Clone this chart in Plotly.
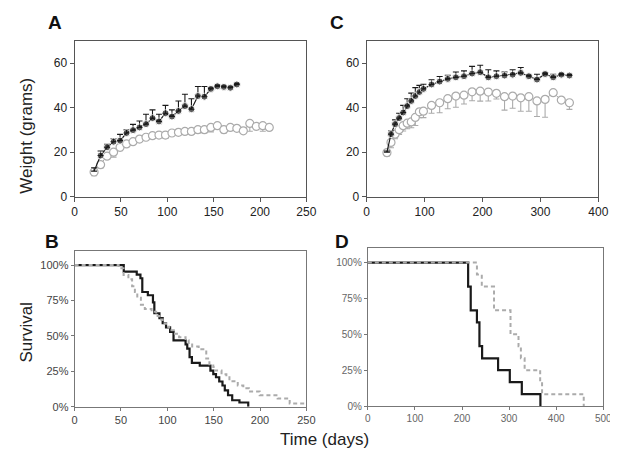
import plotly.graph_objects as go

# ---------------- Panel A: weight vs age ----------------
a_black_days = [21, 28, 35, 42, 49, 56, 63, 70, 77, 84, 91, 98, 105, 112, 119, 126, 133, 140, 147, 154, 161, 168, 175]
a_black_wt = [11.5, 18.5, 22.2, 24.7, 25.2, 28.6, 29.9, 31.1, 32.6, 35.3, 33.8, 37.5, 36.0, 38.5, 40.7, 39.3, 45.2, 44.9, 48.4, 49.6, 49.3, 48.9, 50.4]
a_black_err = [1.5, 2.0, 1.3, 1.3, 2.8, 1.4, 2.6, 2.9, 4.4, 3.7, 3.2, 3.5, 3.0, 4.5, 5.3, 4.7, 4.3, 4.6, 0.5, 0.5, 0.5, 0.5, 0.5]

a_gray_days = [21, 28, 35, 42, 49, 56, 63, 70, 77, 84, 91, 98, 105, 112, 119, 126, 133, 140, 147, 154, 161, 168, 175, 182, 189, 196, 203, 210]
a_gray_wt = [11.1, 14.4, 18.2, 20.0, 22.2, 23.7, 24.7, 25.9, 26.7, 27.4, 27.7, 27.7, 28.6, 28.9, 29.3, 29.3, 30.1, 30.1, 31.1, 31.9, 30.1, 31.1, 30.7, 29.6, 32.9, 31.6, 31.9, 31.1]
a_gray_err = [1.6, 1.5, 1.5, 2.2, 1.5, 1.2, 1.2, 1.0, 1.0, 1.0, 1.0, 1.5, 1.0, 1.0, 1.0, 1.0, 1.5, 1.5, 2.0, 1.0, 1.5, 1.0, 1.0, 0.5, 3.5, 1.5, 2.5, 0.5]

# ---------------- Panel C: weight vs age ----------------
c_black_days = [35, 42, 49, 56, 63, 70, 77, 84, 91, 98, 112, 126, 140, 154, 168, 182, 196, 210, 224, 238, 252, 266, 280, 294, 308, 322, 336, 350]
c_black_wt = [20.0, 28.1, 32.6, 35.3, 37.8, 40.7, 43.0, 45.2, 47.0, 48.4, 50.4, 51.7, 52.9, 53.6, 54.1, 55.3, 55.9, 53.6, 54.1, 54.4, 54.8, 55.6, 54.1, 52.6, 55.1, 53.6, 54.8, 54.4]
c_black_err = [0.5, 1.4, 1.9, 2.2, 3.2, 3.3, 3.5, 3.8, 3.0, 2.1, 2.1, 2.3, 1.6, 2.4, 2.4, 3.2, 3.1, 3.4, 2.4, 1.6, 2.2, 2.4, 0.5, 2.4, 0.5, 1.4, 0.5, 0.5]

c_gray_days = [35, 42, 49, 56, 63, 70, 77, 84, 91, 98, 112, 126, 140, 154, 168, 182, 196, 210, 224, 238, 252, 266, 280, 294, 308, 322, 336, 350]
c_gray_wt = [19.8, 24.4, 28.1, 30.1, 31.9, 33.0, 33.6, 35.6, 38.1, 38.4, 41.0, 42.2, 44.0, 45.2, 45.6, 47.1, 47.4, 47.0, 46.4, 44.9, 45.2, 44.4, 44.9, 43.0, 43.7, 46.7, 43.4, 42.2]
c_gray_err = [1.5, 2.4, 2.1, 2.1, 2.4, 2.5, 2.6, 3.6, 2.6, 2.9, 3.5, 4.5, 4.5, 5.0, 4.0, 4.0, 4.5, 4.0, 2.5, 6.0, 5.5, 6.0, 6.5, 7.0, 8.0, 1.0, 1.0, 3.0]

# ---------------- Panel B: survival (step curves) ----------------
b_black_t = [0, 53, 67, 71, 73, 79, 84.5, 86, 91.5, 95, 98.6, 103, 106.7, 119.7, 121.5, 124, 126.5, 135, 146.5, 149.6, 152.5, 156, 159.5, 162, 165.5, 170, 177.8, 187.3]
b_black_s = [1.0, 0.954, 0.933, 0.907, 0.81, 0.787, 0.736, 0.66, 0.625, 0.59, 0.56, 0.528, 0.468, 0.44, 0.41, 0.35, 0.31, 0.29, 0.255, 0.23, 0.208, 0.178, 0.15, 0.116, 0.081, 0.046, 0.03, 0.0]

b_gray_t = [0, 47.5, 52.8, 58, 62, 65, 67.6, 71.5, 75.7, 83, 88, 91.5, 95, 98.6, 102, 107, 112.7, 119.7, 123, 126.8, 133.8, 142, 145.4, 149.6, 151.4, 158.5, 163.7, 167, 176, 182, 188, 199.6, 219, 232, 250]
b_gray_s = [1.0, 0.977, 0.93, 0.90, 0.85, 0.81, 0.77, 0.72, 0.69, 0.67, 0.64, 0.615, 0.59, 0.565, 0.54, 0.515, 0.49, 0.47, 0.45, 0.425, 0.405, 0.34, 0.30, 0.28, 0.255, 0.23, 0.208, 0.18, 0.15, 0.13, 0.107, 0.081, 0.058, 0.023, 0.023]

# ---------------- Panel D: survival (step curves) ----------------
d_black_t = [0, 213, 218.5, 231.7, 237, 242.7, 276.6, 301.5, 327, 366.5]
d_black_s = [1.0, 0.833, 0.667, 0.583, 0.417, 0.333, 0.25, 0.167, 0.083, 0.0]

d_gray_t = [0, 231.7, 242, 268, 303, 320, 325, 333, 366, 370, 458.5]
d_gray_s = [1.0, 0.917, 0.833, 0.667, 0.5, 0.417, 0.333, 0.25, 0.167, 0.083, 0.0]

surv_tickvals = [0, 0.25, 0.5, 0.75, 1.0]
surv_ticktext = ["0%", "25%", "50%", "75%", "100%"]

BLACK = "#1a1a1a"
GRAY = "#ababab"
FONT = "Arial, Liberation Sans, sans-serif"

fig = go.Figure()

W, H = 618, 453


def px_dom_x(x0, x1):
    return [x0 / W, x1 / W]


def px_dom_y(ytop, ybot):
    return [1 - ybot / H, 1 - ytop / H]


# weight panels
for xa, ya, bd, bw, be, gd, gw, ge in [
    ("x", "y", a_black_days, a_black_wt, a_black_err, a_gray_days, a_gray_wt, a_gray_err),
    ("x2", "y2", c_black_days, c_black_wt, c_black_err, c_gray_days, c_gray_wt, c_gray_err),
]:
    fig.add_trace(go.Scatter(
        x=gd, y=gw, xaxis=xa, yaxis=ya, mode="markers+lines",
        line=dict(color=GRAY, width=1),
        marker=dict(symbol="circle", size=8, color="white", line=dict(width=1.2, color=GRAY)),
        error_y=dict(type="data", symmetric=False, array=[0] * len(ge), arrayminus=ge,
                     color=GRAY, thickness=1.1, width=3),
        showlegend=False, hoverinfo="skip"))
    sizes = [0] + [7] * (len(bd) - 1)
    fig.add_trace(go.Scatter(
        x=bd, y=bw, xaxis=xa, yaxis=ya, mode="markers+lines",
        line=dict(color=BLACK, width=1.2),
        marker=dict(symbol="circle", size=sizes, color=BLACK),
        error_y=dict(type="data", symmetric=False, array=be, arrayminus=[0] * len(be),
                     color=BLACK, thickness=1.1, width=3),
        showlegend=False, hoverinfo="skip"))

# survival panels
for xa, ya, bt, bs, gt, gs in [
    ("x3", "y3", b_black_t, b_black_s, b_gray_t, b_gray_s),
    ("x4", "y4", d_black_t, d_black_s, d_gray_t, d_gray_s),
]:
    fig.add_trace(go.Scatter(
        x=bt, y=bs, xaxis=xa, yaxis=ya, mode="lines", line_shape="hv",
        line=dict(color=BLACK, width=2.2), showlegend=False, hoverinfo="skip"))
    fig.add_trace(go.Scatter(
        x=gt, y=gs, xaxis=xa, yaxis=ya, mode="lines", line_shape="hv",
        line=dict(color=GRAY, width=2, dash="4px,3px"), showlegend=False, hoverinfo="skip"))

weight_axis_common = dict(showline=True, mirror=True, linecolor="#555", linewidth=1,
                          ticks="outside", ticklen=4, tickcolor="#555", showgrid=False,
                          zeroline=False, tickfont=dict(family=FONT, size=12, color="#222"))
surv_axis_common = dict(showline=True, mirror=True, linecolor="#777", linewidth=1,
                        ticks="outside", ticklen=3, tickcolor="#777", showgrid=False,
                        zeroline=False, tickfont=dict(family=FONT, size=11, color="#444"))
surv_axis_d = dict(surv_axis_common)
surv_axis_d["tickfont"] = dict(family=FONT, size=10, color="#666")

fig.update_layout(
    width=W, height=H,
    margin=dict(l=0, r=0, t=0, b=0),
    paper_bgcolor="white", plot_bgcolor="white",
    xaxis=dict(domain=px_dom_x(65, 301.7), range=[0, 250], tickvals=[0, 50, 100, 150, 200, 250],
               anchor="y", **weight_axis_common),
    yaxis=dict(domain=px_dom_y(33.3, 191.7), range=[0, 70], tickvals=[0, 20, 40, 60],
               anchor="x", **weight_axis_common),
    xaxis2=dict(domain=px_dom_x(363.3, 600), range=[0, 400], tickvals=[0, 100, 200, 300, 400],
                anchor="y2", **weight_axis_common),
    yaxis2=dict(domain=px_dom_y(33.3, 191.7), range=[0, 70], tickvals=[0, 20, 40, 60],
                anchor="x2", **weight_axis_common),
    xaxis3=dict(domain=px_dom_x(65, 301.7), range=[0, 250], tickvals=[0, 50, 100, 150, 200, 250],
                anchor="y3", **surv_axis_common),
    yaxis3=dict(domain=px_dom_y(246.7, 405), range=[0, 1.1], tickvals=surv_tickvals,
                ticktext=surv_ticktext, anchor="x3", **surv_axis_common),
    xaxis4=dict(domain=px_dom_x(364.5, 605), range=[0, 500], tickvals=[0, 100, 200, 300, 400, 500],
                anchor="y4", **surv_axis_d),
    yaxis4=dict(domain=px_dom_y(244, 404.3), range=[0, 1.1], tickvals=surv_tickvals,
                ticktext=surv_ticktext, anchor="x4", **surv_axis_d),
)

labels = [("A", 45, 15), ("C", 333, 15), ("B", 42, 237), ("D", 338, 237)]
for txt, x, y in labels:
    fig.add_annotation(text=f"<b>{txt}</b>", x=x / W, y=1 - y / H, xref="paper", yref="paper",
                       showarrow=False, xanchor="center", yanchor="middle",
                       font=dict(family=FONT, size=19, color="#111"))

fig.add_annotation(text="Weight (grams)", x=16 / W, y=1 - 130 / H, xref="paper", yref="paper",
                   showarrow=False, textangle=-90, xanchor="center", yanchor="middle",
                   font=dict(family=FONT, size=17, color="#222"))
fig.add_annotation(text="Survival", x=16 / W, y=1 - 330 / H, xref="paper", yref="paper",
                   showarrow=False, textangle=-90, xanchor="center", yanchor="middle",
                   font=dict(family=FONT, size=17, color="#222"))
fig.add_annotation(text="Time (days)", x=320 / W, y=1 - 438 / H, xref="paper", yref="paper",
                   showarrow=False, xanchor="center", yanchor="middle",
                   font=dict(family=FONT, size=17, color="#222"))

fig.write_html("out.html")
